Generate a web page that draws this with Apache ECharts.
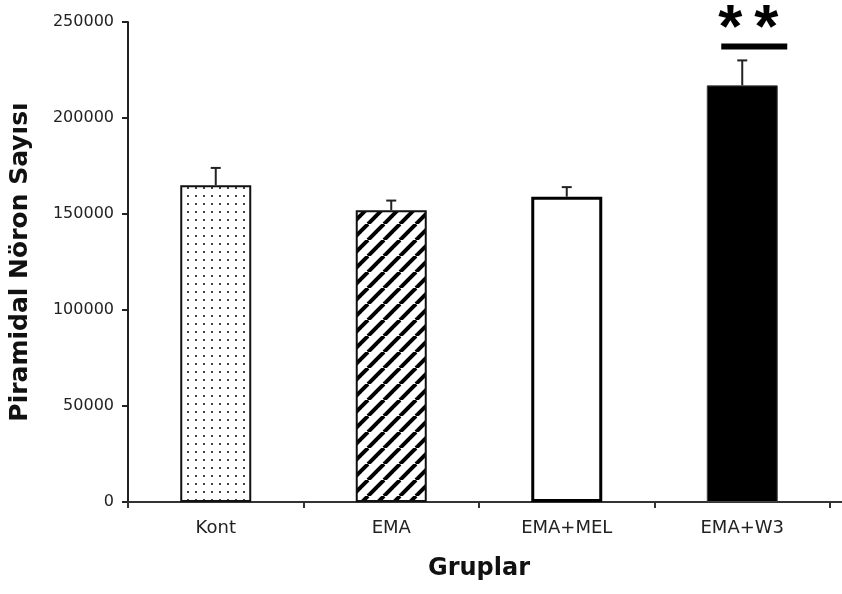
<!DOCTYPE html>
<html>
<head>
<meta charset="utf-8">
<script src="https://cdn.jsdelivr.net/npm/echarts@6/dist/echarts.min.js"></script>
<style>
  html, body { margin: 0; padding: 0; background: #fff; }
  #chart { width: 842px; height: 594px; }
</style>
</head>
<body>
<div id="chart"></div>
<script>
// Pyramidal neuron counts per group (mean and SEM)
const groups = ['Kont', 'EMA', 'EMA+MEL', 'EMA+W3'];
const meanCounts = [165000, 152000, 159000, 217000];
const semCounts = [9000, 5000, 5000, 13000];
const yTicks = [0, 50000, 100000, 150000, 200000, 250000];
const significance = ['', '', '', '**'];

// Fill patterns for the bars
function dotTile() {
  const c = document.createElement('canvas');
  c.width = 8; c.height = 8;
  const g = c.getContext('2d');
  g.fillStyle = '#fff'; g.fillRect(0, 0, 8, 8);
  g.fillStyle = '#444'; g.fillRect(3, 3, 2, 2);
  return c;
}
function hatchTile() {
  const s = 16;
  const c = document.createElement('canvas');
  c.width = s; c.height = s;
  const g = c.getContext('2d');
  g.fillStyle = '#fff'; g.fillRect(0, 0, s, s);
  g.strokeStyle = '#000'; g.lineWidth = 4;
  [-s, 0, s].forEach(dx => {
    g.beginPath();
    g.moveTo(dx, s); g.lineTo(dx + s, 0);
    g.stroke();
  });
  return c;
}

const barStyles = [
  { color: { image: dotTile(), repeat: 'repeat' }, borderColor: '#111', borderWidth: 2 },
  { color: { image: hatchTile(), repeat: 'repeat' }, borderColor: '#111', borderWidth: 2 },
  { color: '#fff', borderColor: '#000', borderWidth: 3 },
  { color: '#000', borderColor: '#444', borderWidth: 1 }
];

const AXIS_FONT = 'DejaVu Sans';
const chart = echarts.init(document.getElementById('chart'), null, { renderer: 'canvas' });

chart.setOption({
  backgroundColor: '#fff',
  animation: false,
  grid: [
    { left: 126, right: 12, top: 22, bottom: 92 },
    { left: 126, right: 0, top: 22, bottom: 92 }
  ],
  xAxis: [
    {
      type: 'category',
      data: groups,
      gridIndex: 0,
      axisLine: { lineStyle: { color: '#333', width: 2 } },
      axisTick: { show: true, length: 6, lineStyle: { color: '#333', width: 2 } },
      axisLabel: { color: '#222', fontFamily: AXIS_FONT, fontSize: 18, margin: 17 },
      name: 'Gruplar',
      nameLocation: 'middle',
      nameGap: 55,
      nameTextStyle: { color: '#111', fontFamily: AXIS_FONT, fontWeight: 'bold', fontSize: 24 }
    },
    {
      type: 'value',
      gridIndex: 1,
      min: 0, max: 1,
      axisLine: { show: true, lineStyle: { color: '#333', width: 2 } },
      axisTick: { show: false },
      axisLabel: { show: false },
      splitLine: { show: false }
    }
  ],
  yAxis: [
    {
      type: 'value',
      gridIndex: 0,
      min: yTicks[0],
      max: yTicks[yTicks.length - 1],
      interval: yTicks[1] - yTicks[0],
      axisLine: { show: true, lineStyle: { color: '#222', width: 2 } },
      axisTick: { show: true, length: 6, lineStyle: { color: '#222', width: 2 } },
      axisLabel: { color: '#222', fontFamily: AXIS_FONT, fontSize: 16, margin: 14, formatter: v => String(v) },
      splitLine: { show: false },
      name: 'Piramidal Nöron Sayısı',
      nameLocation: 'middle',
      nameGap: 95,
      nameTextStyle: { color: '#111', fontFamily: AXIS_FONT, fontWeight: 'bold', fontSize: 25 }
    },
    { type: 'value', gridIndex: 1, show: false, min: 0, max: 1 }
  ],
  series: [
    {
      type: 'bar',
      xAxisIndex: 0, yAxisIndex: 0,
      barWidth: 71,
      data: meanCounts.map((v, i) => ({ value: v, itemStyle: barStyles[i] })),
      z: 2
    },
    {
      // SEM error bars (upper whisker only)
      type: 'custom',
      xAxisIndex: 0, yAxisIndex: 0,
      encode: { x: 0, y: [1, 2] },
      data: meanCounts.map((m, i) => [i, m, m + semCounts[i]]),
      renderItem: (params, api) => {
        const base = api.coord([api.value(0), api.value(1)]);
        const tip = api.coord([api.value(0), api.value(2)]);
        const st = { stroke: '#222', lineWidth: 2 };
        return {
          type: 'group',
          children: [
            { type: 'line', shape: { x1: base[0], y1: base[1], x2: tip[0], y2: tip[1] }, style: st },
            { type: 'line', shape: { x1: tip[0] - 5, y1: tip[1], x2: tip[0] + 5, y2: tip[1] }, style: st }
          ]
        };
      },
      z: 3
    },
    {
      // Significance marker above the bar
      type: 'custom',
      xAxisIndex: 0, yAxisIndex: 0,
      encode: { x: 0, y: 1 },
      data: significance
        .map((s, i) => [i, meanCounts[i] + semCounts[i]])
        .filter(d => significance[d[0]]),
      renderItem: (params, api) => {
        const idx = api.value(0);
        const tip = api.coord([idx, api.value(1)]);
        const lineY = tip[1] - 14;
        const stars = significance[idx];
        const children = [
          { type: 'rect', shape: { x: tip[0] - 21, y: lineY - 3, width: 66, height: 6 }, style: { fill: '#000' } }
        ];
        const starX = [tip[0] - 12, tip[0] + 24];
        for (let k = 0; k < stars.length; k++) {
          children.push({
            type: 'text',
            style: {
              text: stars[k], x: starX[k], y: lineY - 16,
              fill: '#000', font: 'bold 62px "Liberation Sans"',
              textAlign: 'center', textVerticalAlign: 'middle'
            }
          });
        }
        return { type: 'group', children };
      },
      z: 4
    }
  ]
});
</script>
</body>
</html>
